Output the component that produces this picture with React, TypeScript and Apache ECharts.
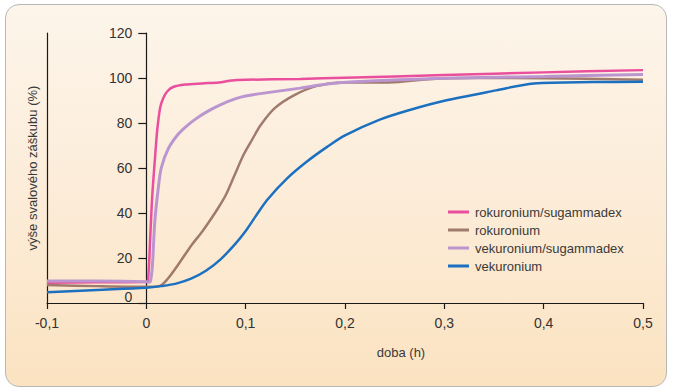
import React, { useEffect, useRef } from 'react';
import * as echarts from 'echarts';

const seriesNames = ['rokuronium/sugammadex', 'rokuronium', 'vekuronium/sugammadex', 'vekuronium'];
const seriesColors = ['#ea4f9d', '#a07b6d', '#bb95cf', '#1b70c0'];

const rokSugX = [-0.1, -0.05, 0, 0.002, 0.004, 0.006, 0.009, 0.011, 0.014, 0.017, 0.021, 0.027, 0.039, 0.056, 0.073, 0.086, 0.1, 0.155, 0.2, 0.3, 0.4, 0.5];
const rokSugY = [9.0, 9.2, 9.3, 12, 30, 48, 66, 77, 87, 91, 94, 96, 97.1, 97.6, 98.0, 98.9, 99.2, 99.6, 100.1, 101.3, 102.5, 103.5];

const rokX = [-0.1, -0.05, 0, 0.013, 0.022, 0.032, 0.046, 0.055, 0.063, 0.072, 0.08, 0.088, 0.098, 0.107, 0.115, 0.129, 0.149, 0.172, 0.2, 0.244, 0.287, 0.33, 0.4, 0.5];
const rokY = [8.0, 7.5, 7.2, 7.5, 11, 17, 26, 31, 36, 42, 48, 56, 66, 73, 79, 86.5, 92.4, 96.5, 98, 98, 99.6, 100, 99.9, 99.2];

const vekSugX = [-0.1, -0.05, 0, 0.002, 0.004, 0.006, 0.0085, 0.012, 0.015, 0.022, 0.032, 0.042, 0.052, 0.063, 0.075, 0.09, 0.1, 0.122, 0.155, 0.182, 0.205, 0.3, 0.4, 0.5];
const vekSugY = [9.8, 9.8, 9.5, 9.2, 9.5, 16, 36, 51, 60, 68.5, 75, 79.2, 82.5, 85.5, 88.2, 90.8, 92, 93.5, 95.5, 97.3, 98.2, 99.9, 100.7, 101.6];

const vekX = [-0.1, -0.05, 0, 0.015, 0.03, 0.045, 0.06, 0.075, 0.09, 0.1, 0.11, 0.122, 0.142, 0.162, 0.182, 0.2, 0.235, 0.266, 0.3, 0.352, 0.39, 0.45, 0.5];
const vekY = [4.8, 5.8, 6.8, 7.5, 8.6, 10.8, 14.3, 19.5, 26.5, 32, 38.5, 46, 55.5, 63, 69.4, 74.5, 81.5, 85.9, 89.9, 94.5, 97.6, 98.2, 98.3];

const xTicks = { min: -0.1, max: 0.5, interval: 0.1 };
const yTicks = { min: 0, max: 120, interval: 20 };

const zip = (xs: number[], ys: number[]) => xs.map((x, i) => [x, ys[i]]);
const allData = [zip(rokSugX, rokSugY), zip(rokX, rokY), zip(vekSugX, vekSugY), zip(vekX, vekY)];

const FONT = 'Liberation Sans, Arial, sans-serif';
const GRID_LEFT = 47;
const GRID_RIGHT = 30;
const WIDTH = 673;
const zeroOffset = ((0 - xTicks.min) / (xTicks.max - xTicks.min)) * (WIDTH - GRID_LEFT - GRID_RIGHT);

export default function App() {
  const ref = useRef<HTMLDivElement>(null);
  useEffect(() => {
    if (!ref.current) return;
    const chart = echarts.init(ref.current, null, { renderer: 'svg' });
    chart.setOption({
      animation: false,
      backgroundColor: 'transparent',
      textStyle: { fontFamily: FONT },
      grid: { left: GRID_LEFT, right: GRID_RIGHT, top: 33, bottom: 88, containLabel: false },
      legend: {
        orient: 'vertical',
        left: 443,
        top: 198,
        icon: 'rect',
        itemWidth: 21,
        itemHeight: 3,
        itemGap: 0,
        textStyle: { fontSize: 13, color: '#3a3a3a', fontFamily: FONT, lineHeight: 18, padding: [0, 0, 0, 1] },
        data: seriesNames,
      },
      xAxis: {
        type: 'value',
        min: xTicks.min,
        max: xTicks.max,
        interval: xTicks.interval,
        name: 'doba (h)',
        nameLocation: 'middle',
        nameGap: 43,
        nameTextStyle: { fontSize: 13, color: '#3a3a3a', fontFamily: FONT, padding: [0, 0, 0, 112] },
        axisLine: { lineStyle: { color: '#1a1a1a', width: 1.2 } },
        axisTick: { show: true, length: 6, lineStyle: { color: '#1a1a1a', width: 1.2 } },
        axisLabel: {
          fontSize: 14,
          color: '#333',
          margin: 13,
          formatter: (v: number) => (Math.abs(v) < 1e-9 ? '0' : String(Math.round(v * 10) / 10).replace('.', ',')),
        },
        splitLine: { show: false },
      },
      yAxis: [
        {
          type: 'value',
          min: yTicks.min,
          max: yTicks.max,
          interval: yTicks.interval,
          position: 'left',
          offset: -zeroOffset,
          axisLine: { show: true, onZero: false, lineStyle: { color: '#1a1a1a', width: 1.2 } },
          axisTick: { show: true, length: 8, lineStyle: { color: '#1a1a1a', width: 1.2 } },
          axisLabel: {
            fontSize: 14,
            color: '#333',
            margin: 14,
            formatter: (v: number) => (v === 0 ? '{z|0}' : String(v)),
            rich: { z: { fontSize: 14, color: '#333', fontFamily: FONT, padding: [0, 0, 12, 0] } },
          },
          splitLine: { show: false },
        },
        {
          type: 'value',
          min: yTicks.min,
          max: yTicks.max,
          interval: yTicks.interval,
          position: 'left',
          name: 'výše svalového záškubu (%)',
          nameLocation: 'middle',
          nameGap: 8,
          nameTextStyle: { fontSize: 13, color: '#3a3a3a', fontFamily: FONT },
          axisLine: { show: true, onZero: false, lineStyle: { color: '#1a1a1a', width: 1.2 } },
          axisTick: { show: false },
          axisLabel: { show: false },
          splitLine: { show: false },
        },
      ],
      series: seriesNames.map((name, i) => ({
        name,
        type: 'line',
        yAxisIndex: 0,
        data: allData[i],
        showSymbol: false,
        smooth: 0.3,
        color: seriesColors[i],
        lineStyle: { width: i === 2 ? 3 : 2.5, color: seriesColors[i] },
      })),
    });
    return () => chart.dispose();
  }, []);

  return (
    <div style={{ position: 'absolute', left: 0, top: 0, width: 673, height: 391, background: '#fff' }}>
      <div
        style={{
          position: 'absolute',
          left: 5,
          top: 4,
          width: 662,
          height: 383,
          boxSizing: 'border-box',
          border: '1.5px solid #b8b8b8',
          borderRadius: 14,
          background: 'linear-gradient(180deg, #fdf5eb 0%, #fcecd8 50%, #fbe3c1 100%)',
        }}
      />
      <div ref={ref} style={{ position: 'absolute', left: 0, top: 0, width: 673, height: 391 }} />
    </div>
  );
}
